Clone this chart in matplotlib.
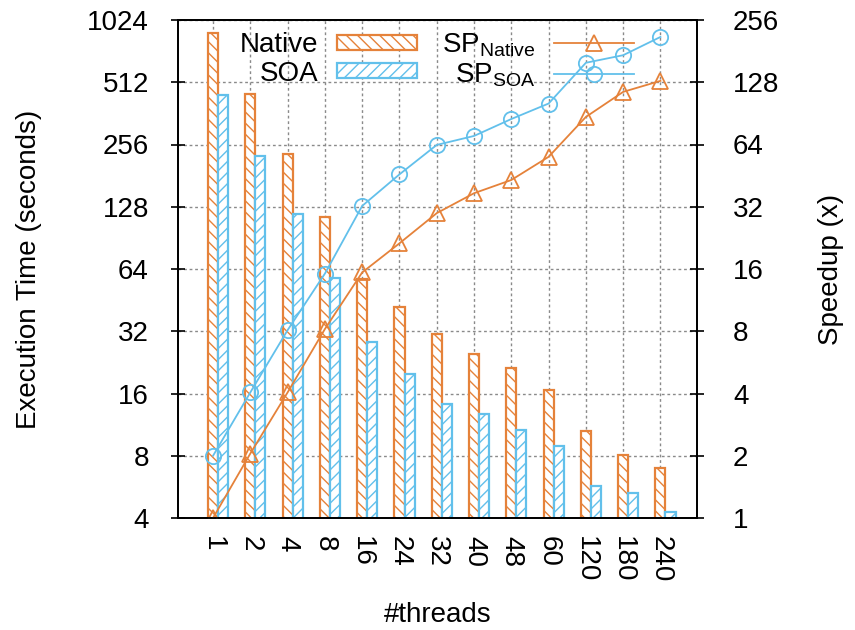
import matplotlib
matplotlib.use("Agg")
import matplotlib.pyplot as plt
import numpy as np

# data
threads = ["1", "2", "4", "8", "16", "24", "32", "40", "48", "60", "120", "180", "240"]
time_native = [890, 450, 230, 114, 57, 42, 31, 24.8, 21.2, 16.6, 10.4, 8.0, 6.9]
time_soa = [444, 225, 118, 57.5, 28.2, 19.7, 14.2, 12.7, 10.5, 8.85, 5.6, 5.2, 4.2]
sp_native = [1, 2.05, 4.05, 8.2, 15.4, 21.3, 29.8, 37.2, 43.1, 55.8, 87, 115, 130]
sp_soa = [2.0, 4.05, 8.1, 15.2, 32.3, 45.9, 63.7, 70.4, 85, 101, 159, 173, 212]

left_ticks = [4, 8, 16, 32, 64, 128, 256, 512, 1024]
right_ticks = [1, 2, 4, 8, 16, 32, 64, 128, 256]

orange = "#e5823a"
blue = "#62c0eb"

plt.rcParams["font.family"] = ["Liberation Sans", "DejaVu Sans"]
plt.rcParams["mathtext.fontset"] = "custom"
plt.rcParams["mathtext.rm"] = "Liberation Sans"
plt.rcParams["hatch.linewidth"] = 1.0
plt.rcParams["font.size"] = 20

fig = plt.figure(figsize=(8.55, 6.3), dpi=100)
ax = fig.add_axes([178 / 855, 1 - 518 / 630, 519 / 855, 498 / 630])
ax2 = ax.twinx()

x = np.arange(len(threads))
w = 0.27

# bars (execution time, left axis)
b1 = ax.bar(x, time_native, w, bottom=0.1, color="white", edgecolor=orange,
            hatch="\\\\\\", linewidth=1.6, label="Native", zorder=2)
b2 = ax.bar(x + w, time_soa, w, bottom=0.1, color="white", edgecolor=blue,
            hatch="///", linewidth=1.6, label="SOA", zorder=2)

ax.set_yscale("log", base=2)
ax.set_ylim(4, 1024)
ax.set_yticks(left_ticks)
ax.set_yticklabels([str(t) for t in left_ticks])
ax.minorticks_off()
ax.set_xlim(-0.94, 12.98)
ax.set_xticks(x)
ax.set_xticklabels(threads, rotation=-90, va="top", ha="center")

# speedup lines, right axis
l1, = ax2.plot(x, sp_native, color=orange, marker="^", markersize=11,
               markerfacecolor="none", markeredgewidth=1.3, linewidth=1.3,
               label=r"SP$_{\mathregular{Native}}$")
l2, = ax2.plot(x, sp_soa, color=blue, marker="o", markersize=11,
               markerfacecolor="none", markeredgewidth=1.3, linewidth=1.3,
               label=r"SP$_{\mathregular{SOA}}$")
ax2.set_yscale("log", base=2)
ax2.set_ylim(1, 256)
ax2.set_yticks(right_ticks)
ax2.set_yticklabels([str(t) for t in right_ticks])
ax2.minorticks_off()

# dotted grid behind the bars
ax.set_axisbelow(True)
ax.grid(True, color="#8a8a8a", linestyle=(0, (2, 2)), linewidth=1.0)

ax.tick_params(axis="x", length=0, pad=13)
ax.tick_params(axis="y", direction="inout", length=10, width=1.2, pad=16)
ax2.tick_params(axis="y", direction="inout", length=10, width=1.2, pad=21)
for a in (ax, ax2):
    for s in a.spines.values():
        s.set_linewidth(1.3)

ax.set_ylabel("Execution Time (seconds)")
ax.yaxis.set_label_coords(-0.262, 0.5)
ax2.set_ylabel("Speedup (x)")
ax2.yaxis.set_label_coords(1.233, 0.5)
ax.set_xlabel("#threads")
ax.xaxis.set_label_coords(0.5, -0.168)

leg = ax2.legend([b1, b2, l1, l2], ["Native", "SOA", r"SP$_{\mathregular{Native}}$", r"SP$_{\mathregular{SOA}}$"],
                 ncol=2, markerfirst=False, frameon=False, loc="upper left",
                 bbox_to_anchor=(62 / 519, 0.978), borderpad=0, borderaxespad=0,
                 handlelength=2.9, handleheight=0.45, handletextpad=0.65,
                 columnspacing=0.9, labelspacing=0.1)

plt.savefig("out.png", dpi=100)
plt.close()
